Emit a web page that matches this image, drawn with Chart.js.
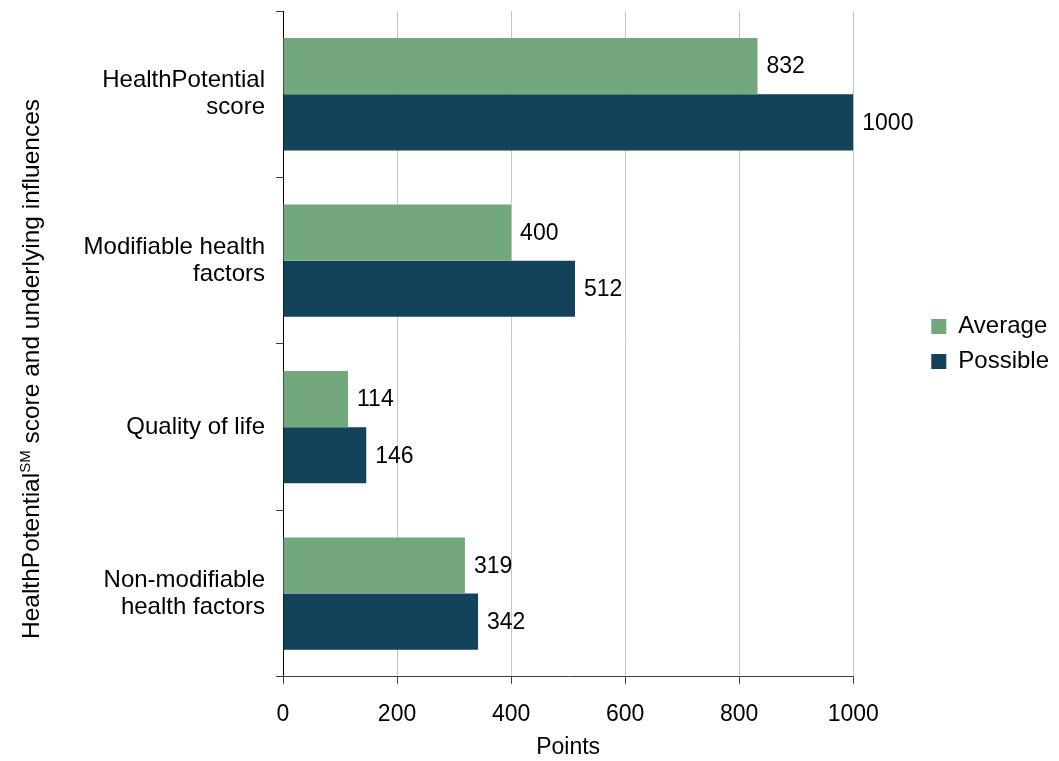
<!DOCTYPE html>
<html>
<head>
<meta charset="utf-8">
<script src="https://cdn.jsdelivr.net/npm/chart.js@4.4.1/dist/chart.umd.min.js"></script>
<style>
  body { margin: 0; background: #fff; }
</style>
</head>
<body>
<canvas id="myChart" width="1059" height="761"></canvas>
<script>
const categories = [
    ['HealthPotential', 'score'],
    ['Modifiable health', 'factors'],
    'Quality of life',
    ['Non-modifiable', 'health factors']
];
const averageValues = [832, 400, 114, 319];
const possibleValues = [1000, 512, 146, 342];
const xTicks = [0, 200, 400, 600, 800, 1000];

const FONT = "'Liberation Sans', Arial, sans-serif";

// value labels at the end of each bar
const valueLabels = {
    id: 'valueLabels',
    afterDatasetsDraw(chart) {
        const ctx = chart.ctx;
        ctx.save();
        ctx.font = '23px ' + FONT;
        ctx.fillStyle = '#000';
        ctx.textAlign = 'left';
        ctx.textBaseline = 'middle';
        chart.data.datasets.forEach((ds, i) => {
            chart.getDatasetMeta(i).data.forEach((bar, j) => {
                ctx.fillText(ds.data[j], bar.x + 9, bar.y + 1);
            });
        });
        ctx.restore();
    }
};

// y axis title with superscript SM
const yTitle = {
    id: 'yTitle',
    afterDraw(chart) {
        const ctx = chart.ctx;
        const parts = [
            { t: 'HealthPotential', size: 24.5, dy: 0 },
            { t: 'SM', size: 15, dy: -9 },
            { t: ' score and underlying influences', size: 24.5, dy: 0 }
        ];
        ctx.save();
        let total = 0;
        parts.forEach(p => { ctx.font = p.size + 'px ' + FONT; p.w = ctx.measureText(p.t).width; total += p.w; });
        ctx.translate(39, 369);
        ctx.rotate(-Math.PI / 2);
        ctx.fillStyle = '#000';
        ctx.textBaseline = 'alphabetic';
        let x = -total / 2;
        parts.forEach(p => {
            ctx.font = p.size + 'px ' + FONT;
            ctx.fillText(p.t, x, p.dy);
            x += p.w;
        });
        ctx.restore();
    }
};

const ctx = document.getElementById('myChart').getContext('2d');

const myChart = new Chart(ctx, {
    type: 'bar',
    data: {
        labels: categories,
        datasets: [{
            label: 'Average',
            data: averageValues,
            backgroundColor: 'rgb(115, 168, 127)',
            categoryPercentage: 0.675,
            barPercentage: 1
        }, {
            label: 'Possible',
            data: possibleValues,
            backgroundColor: 'rgb(19, 67, 90)',
            categoryPercentage: 0.675,
            barPercentage: 1
        }]
    },
    options: {
        indexAxis: 'y',
        responsive: false,
        animation: false,
        layout: {
            padding: { left: 84, top: 11, right: 0, bottom: 0 }
        },
        plugins: {
            legend: {
                position: 'right',
                fullSize: false,
                labels: {
                    boxWidth: 15,
                    boxHeight: 15,
                    padding: 11,
                    color: '#000',
                    font: { family: FONT, size: 24 }
                }
            },
            tooltip: { enabled: false }
        },
        scales: {
            x: {
                min: 0,
                max: 1000,
                afterBuildTicks: (scale) => { scale.ticks = xTicks.map(v => ({ value: v })); },
                grid: {
                    color: '#c6c6c6',
                    tickColor: '#404040',
                    tickLength: 7
                },
                border: { color: '#404040' },
                ticks: {
                    padding: 17,
                    color: '#000',
                    maxRotation: 0,
                    callback: (v) => String(v),
                    font: { family: FONT, size: 23, lineHeight: 1.2 }
                },
                title: {
                    display: true,
                    text: 'Points',
                    color: '#000',
                    padding: { top: -12, bottom: 0 },
                    font: { family: FONT, size: 23, lineHeight: 1.2 }
                }
            },
            y: {
                grid: {
                    drawOnChartArea: false,
                    color: '#404040',
                    tickLength: 7
                },
                border: { color: '#000' },
                ticks: {
                    padding: 11,
                    color: '#000',
                    font: { family: FONT, size: 24, lineHeight: 1.13 }
                },
                afterFit: (scale) => {
                    scale.width = 199;
                    scale.paddingTop = 0;
                    scale.paddingBottom = 0;
                }
            },
            gap: {
                axis: 'y',
                type: 'linear',
                position: 'right',
                display: true,
                grid: { display: false },
                border: { display: false },
                ticks: { display: false },
                afterFit: (scale) => { scale.width = 67; }
            }
        }
    },
    plugins: [valueLabels, yTitle]
});
</script>
</body>
</html>
